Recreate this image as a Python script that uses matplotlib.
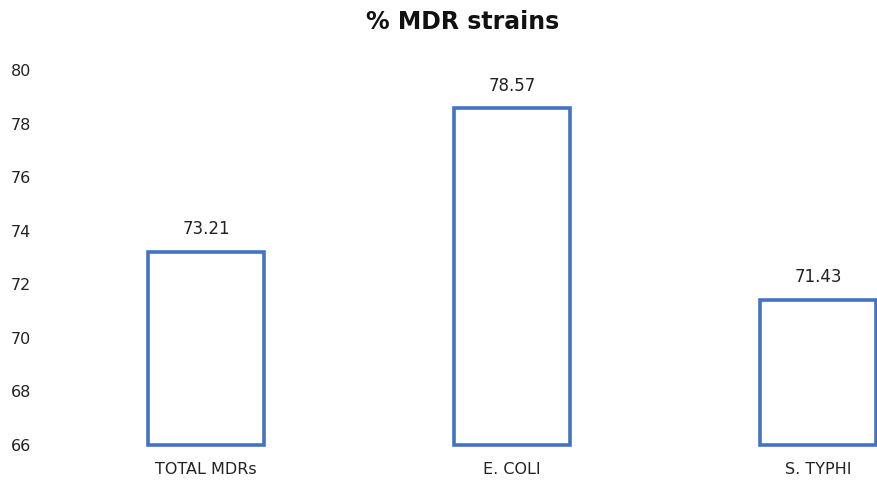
import matplotlib.pyplot as plt

categories = ['TOTAL MDRs', 'E. COLI', 'S. TYPHI']
values = [73.21, 78.57, 71.43]
value_labels = ['73.21', '78.57', '71.43']
yticks = [66, 68, 70, 72, 74, 76, 78, 80]

fig = plt.figure(figsize=(8.78, 4.83), dpi=100)
ax = fig.add_axes([53 / 878, 38 / 483, (878 - 53) / 878, 375 / 483])

x = list(range(len(categories)))
bars = ax.bar(x, [v - 66 for v in values], bottom=66, width=0.38,
              facecolor='white', edgecolor='#4472C4', linewidth=2.6)
for b in bars:
    b.set_clip_on(False)

for xi, v, lab in zip(x, values, value_labels):
    ax.text(xi, v + 0.5, lab, ha='center', va='bottom', fontsize=12, color='#222222')

ax.set_xlim(-0.5, 2 + 60 / 306)
ax.set_ylim(66, 80)
ax.set_yticks(yticks)
ax.set_xticks(x)
ax.set_xticklabels(categories)
ax.tick_params(axis='both', length=0, labelsize=11.5, colors='#222222')
ax.tick_params(axis='y', pad=16)
ax.tick_params(axis='x', pad=12)
for s in ax.spines.values():
    s.set_visible(False)

fig.text(0.527, 0.955, '% MDR strains', ha='center', va='center',
         fontsize=17, fontweight='bold', color='#111111')

fig.savefig('out.png', dpi=100)
